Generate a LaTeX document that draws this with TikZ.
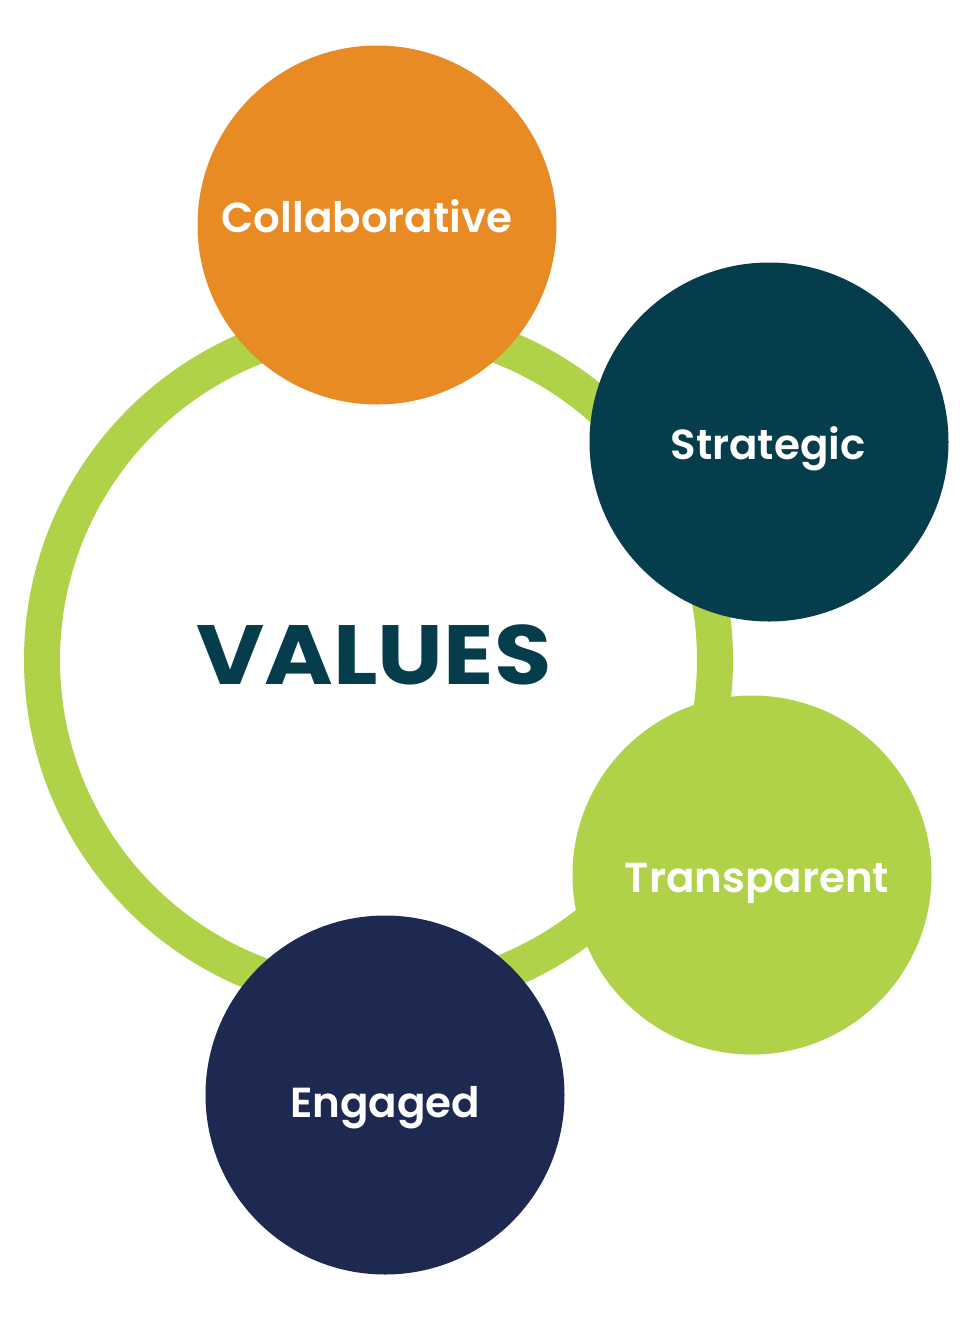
\documentclass[tikz,border=0pt]{standalone}
\usepackage{fontspec}
\setmainfont{Poppins}[BoldFont={Poppins SemiBold}]
\newfontfamily\heavyfont{Poppins Bold}
\definecolor{vorange}{HTML}{E98B25}
\definecolor{vteal}{HTML}{053D4C}
\definecolor{vgreen}{HTML}{B0D249}
\definecolor{vnavy}{HTML}{1D2951}
\tikzset{
  valuecircle/.style={circle, minimum size=359pt, inner sep=0pt},
  label/.style={anchor=base, text=white, font=\fontsize{42}{42}\selectfont\bfseries},
}
\begin{document}
\begin{tikzpicture}[x=1pt,y=-1pt]
\useasboundingbox (0,0) rectangle (980,1331);
\fill[white] (0,0) rectangle (980,1331);
% ring
\coordinate (ringc) at (378.5,660);
\draw[vgreen, line width=36pt] (ringc) circle[radius=336.5];
% circles
\node[valuecircle, fill=vorange] (collab) at (377,225) {};
\node[valuecircle, fill=vteal] (strat) at (769,442) {};
\node[valuecircle, fill=vgreen] (transp) at (752,875) {};
\node[valuecircle, fill=vnavy] (engaged) at (385,1095) {};
% labels
\node[label] (tcollab) at (367,232) {Collaborative};
\node[label] (tstrat) at (768,459) {Strategic};
\node[label] (ttransp) at (757,892) {Transparent};
\node[label] (tengaged) at (385,1117) {Engaged};
\node[anchor=base, text=vteal, font=\fontsize{84}{84}\heavyfont] (values) at (374,684) {\scalebox{1.11}[1]{VALUES}};
\end{tikzpicture}
\end{document}
